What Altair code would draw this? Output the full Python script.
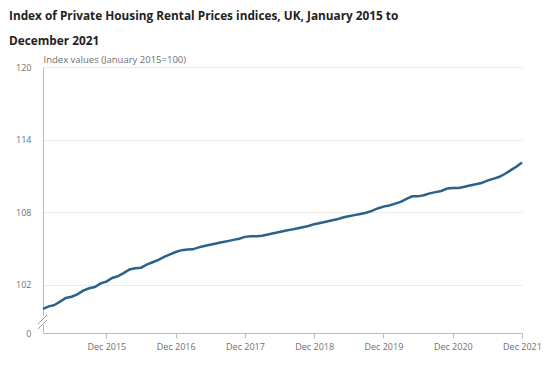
import altair as alt
import pandas as pd

years = [2015, 2016, 2017, 2018, 2019, 2020, 2021]
v2015 = [100.0, 100.2, 100.3, 100.6, 100.9, 101.0, 101.2, 101.5, 101.7, 101.8, 102.1, 102.25]
v2016 = [102.55, 102.7, 102.95, 103.25, 103.35, 103.4, 103.65, 103.85, 104.05, 104.3, 104.5, 104.7]
v2017 = [104.85, 104.9, 104.92, 105.08, 105.2, 105.3, 105.4, 105.5, 105.6, 105.7, 105.8, 105.95]
v2018 = [106.0, 106.0, 106.05, 106.15, 106.25, 106.35, 106.45, 106.55, 106.65, 106.75, 106.85, 107.0]
v2019 = [107.1, 107.2, 107.3, 107.4, 107.55, 107.65, 107.75, 107.85, 107.95, 108.1, 108.3, 108.45]
v2020 = [108.55, 108.7, 108.85, 109.1, 109.3, 109.3, 109.4, 109.55, 109.65, 109.75, 109.95, 110.0]
v2021 = [110.0, 110.1, 110.2, 110.3, 110.4, 110.6, 110.75, 110.9, 111.15, 111.45, 111.75, 112.1]
series = [v2015, v2016, v2017, v2018, v2019, v2020, v2021]

y_ticks = [98, 102, 108, 114, 120]
y_labels = ["0", "102", "108", "114", "120"]
tick_years = [2015, 2016, 2017, 2018, 2019, 2020, 2021]

rows = []
for yr, vals in zip(years, series):
    for m, v in enumerate(vals):
        rows.append({"date": f"{yr}-{m+1:02d}-01", "value": v})
df = pd.DataFrame(rows)

label_expr = " : ".join(
    [f"datum.value == {t} ? '{l}'" for t, l in zip(y_ticks, y_labels)]
) + " : ''"

FONT = "Open Sans"
GRAY = "#707070"

x_enc = alt.X(
    "date:T",
    scale=alt.Scale(
        type="utc",
        domain=[alt.DateTime(year=2015, month=1, date=1, utc=True),
                alt.DateTime(year=2021, month=12, date=1, utc=True)],
    ),
    axis=alt.Axis(
        values=[alt.DateTime(year=y, month=12, date=1, utc=True) for y in tick_years],
        labelExpr="utcFormat(datum.value, '%b %Y')",
        title=None,
        grid=False,
        domainColor="#bdbdbd",
        tickColor="#bdbdbd",
        tickSize=5,
        labelFont=FONT,
        labelFontSize=9,
        labelColor=GRAY,
        labelPadding=4,
        labelFlush=False,
    ),
)
y_enc = alt.Y(
    "value:Q",
    scale=alt.Scale(domain=[98, 120], nice=False, zero=False),
    axis=alt.Axis(
        values=y_ticks,
        labelExpr=label_expr,
        title="Index values (January 2015=100)",
        titleAngle=0,
        titleAlign="left",
        titleBaseline="bottom",
        titleX=0,
        titleY=-3,
        titleFont=FONT,
        titleFontSize=9.5,
        titleFontWeight="normal",
        titleColor=GRAY,
        ticks=False,
        domainColor="#bdbdbd",
        gridColor="#ebebeb",
        gridOpacity={"expr": "datum.value == 98 ? 0 : 1"},
        labelFont=FONT,
        labelFontSize=9,
        labelColor=GRAY,
        labelPadding=12,
    ),
)

line = alt.Chart(df).mark_line(color="#2a628c", strokeWidth=2.5).encode(x=x_enc, y=y_enc)

# axis break marker
gap = alt.Chart(df.head(1)).mark_rect(color="white").encode(
    x=alt.value(-2), x2=alt.value(2), y=alt.value(249), y2=alt.value(258)
)
slash1 = alt.Chart(df.head(1)).mark_rule(color="#9e9e9e", strokeWidth=1).encode(
    x=alt.value(-5), x2=alt.value(4), y=alt.value(257), y2=alt.value(248)
)
slash2 = alt.Chart(df.head(1)).mark_rule(color="#9e9e9e", strokeWidth=1).encode(
    x=alt.value(-5), x2=alt.value(4), y=alt.value(262), y2=alt.value(253)
)

chart = (
    alt.layer(line, gap, slash1, slash2)
    .properties(
        width=479,
        height=266,
        autosize=alt.AutoSizeParams(type="none"),
        padding={"left": 35, "top": 59, "right": 20, "bottom": 20},
        title=alt.TitleParams(
            text=["Index of Private Housing Rental Prices indices, UK, January 2015 to",
                  "December 2021"],
            anchor="start",
            frame="group",
            font=FONT,
            fontSize=11.8,
            fontWeight="bold",
            color="#222222",
            lineHeight=25,
            dx=-34,
            dy=4,
            offset=10,
        ),
    )
    .configure_view(stroke=None)
)

chart.save("out.html", embed_options={"renderer": "svg", "actions": False})
